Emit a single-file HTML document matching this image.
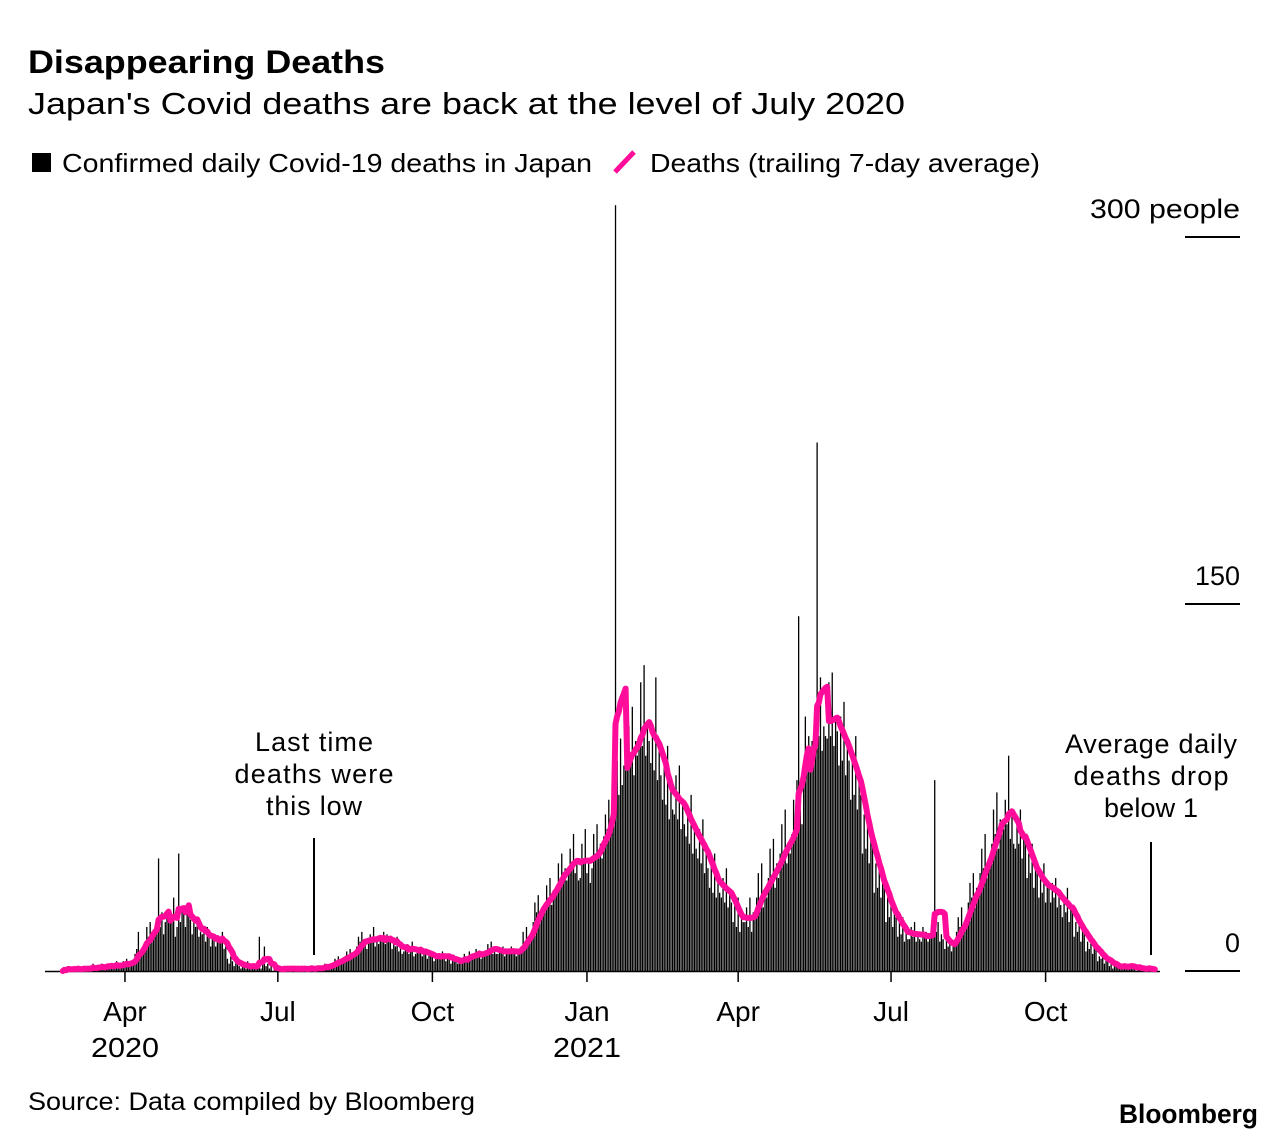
<!DOCTYPE html>
<html><head><meta charset="utf-8"><style>
body{margin:0;background:#fff;width:1286px;height:1140px;overflow:hidden;font-family:"Liberation Sans",sans-serif;}
svg{position:absolute;left:0;top:0}
</style></head><body>
<svg id="chart" width="1286" height="1140" xmlns="http://www.w3.org/2000/svg" font-family="Liberation Sans, sans-serif">
<text x="28" y="73" font-size="32" font-weight="bold" fill="#000" textLength="357" lengthAdjust="spacingAndGlyphs">Disappearing Deaths</text>
<text x="28" y="114" font-size="31" fill="#000" textLength="877" lengthAdjust="spacingAndGlyphs">Japan's Covid deaths are back at the level of July 2020</text>
<g>
<rect x="32" y="153" width="19" height="19" fill="#000"/>
<text x="62" y="172" font-size="26" textLength="530" lengthAdjust="spacingAndGlyphs">Confirmed daily Covid-19 deaths in Japan</text>
<line x1="615" y1="172" x2="634" y2="152" stroke="#ff0d9a" stroke-width="5"/>
<text x="650" y="172" font-size="26" textLength="390" lengthAdjust="spacingAndGlyphs">Deaths (trailing 7-day average)</text>
</g>
<g id="yaxis"></g>
<g id="bars"></g>
<g id="xaxis"></g>
<path id="avg" fill="none" stroke="#ff0d9a" stroke-width="6" stroke-linejoin="round" stroke-linecap="round"/>
<g font-size="27" text-anchor="middle" lengthAdjust="spacingAndGlyphs">
<text x="314" y="751" textLength="118">Last time</text><text x="314" y="783" textLength="159">deaths were</text><text x="314" y="815" textLength="96">this low</text>
<line x1="314" y1="838" x2="314" y2="955" stroke="#000" stroke-width="2"/>
</g>
<g font-size="27" text-anchor="middle">
<text x="1151" y="753" textLength="172">Average daily</text><text x="1151" y="785" textLength="155">deaths drop</text><text x="1151" y="817" textLength="94">below 1</text>
<line x1="1151" y1="842" x2="1151" y2="955" stroke="#000" stroke-width="2"/>
</g>
<text x="28" y="1110" font-size="25" textLength="447" lengthAdjust="spacingAndGlyphs">Source: Data compiled by Bloomberg</text>
<text x="1119" y="1123" font-size="27" font-weight="bold" textLength="139" lengthAdjust="spacingAndGlyphs">Bloomberg</text>
</svg>
<script>
const startDate = "2020-02-24";
const daily = [
0,1,0,2,1,0,1, 1,0,2,1,0,1,2, 0,1,2,1,3,0,1, 2,1,3,2,1,2,3, 1,3,2,2,4,1,2, 2,4,3,5,2,3,3,
4,7,9,16,6,8,10, 12,18,14,20,15,17,16, 19,46,18,24,15,20,22, 25,20,23,30,14,18,48, 20,26,24,18,25,27,21,
15,20,18,22,14,16,15, 16,12,18,14,10,15,13, 10,14,13,12,16,9,10, 5,3,6,4,2,5,3, 2,1,3,2,1,4,1,
1,2,3,1,2,14,1, 3,10,2,3,1,2,0, 1,0,2,1,0,1,2, 0,1,1,2,0,1,1, 1,0,2,1,1,0,1, 1,2,1,0,2,1,1,
1,2,3,2,1,3,2, 3,5,4,6,3,4,5, 6,8,5,9,7,6,8, 10,14,12,16,11,13,9, 12,15,13,18,10,14,11, 14,12,16,11,15,12,13,
9,12,10,14,8,10,7, 8,10,11,7,9,12,6, 7,9,8,10,6,9,7, 5,7,6,8,4,6,6, 6,5,8,7,4,6,6, 3,5,4,6,3,4,3,
5,7,6,4,8,6,6, 6,9,7,8,5,7,7, 8,11,9,12,7,9,7, 7,9,8,10,6,9,7, 7,10,8,9,6,8,8, 10,16,12,18,13,15,14,
20,28,24,31,22,26,24, 28,35,30,38,27,33,33, 35,44,38,48,36,42,37, 42,50,44,56,40,46,37, 38,52,45,58,40,46,36,
42,56,48,60,46,52,46, 55,64,58,70,62,72,68, 313,86,72,95,76,84,82, 86,100,84,108,80,94,88, 95,118,92,125,88,100,94,
85,100,82,120,78,92,80, 70,86,68,92,62,74,66, 64,80,62,84,58,70,60, 55,68,52,72,48,60,50, 46,58,44,62,40,50,42,
34,44,32,48,30,36,32, 30,38,28,42,26,32,28, 20,28,18,30,16,22,20, 20,26,18,30,16,24,22, 30,40,28,44,26,34,30,
38,50,36,54,34,44,38, 48,60,46,66,44,52,48, 56,70,58,78,145,66,60, 80,104,86,96,84,94,90, 92,216,96,120,90,100,96,
95,118,96,122,92,104,98, 84,104,86,110,80,94,86, 70,90,72,96,66,78,72, 48,64,50,68,44,54,52, 32,44,34,48,30,36,34,
20,30,22,32,18,24,22, 14,20,15,22,12,16,13, 13,18,14,20,12,15,13, 12,18,14,16,12,15,14, 14,78,16,20,12,15,13,
9,13,10,14,8,12,11, 16,22,18,26,15,20,23, 28,36,30,40,26,34,30, 40,50,42,56,38,46,43, 52,66,56,73,50,62,61,
58,70,60,88,54,66,52, 50,62,52,66,46,56,53, 38,48,40,52,34,42,40, 30,40,32,44,28,36,35, 28,36,30,38,26,32,27,
22,30,24,34,20,26,26, 14,20,16,22,12,18,17, 8,12,9,14,7,11,9, 4,6,5,7,3,5,5, 2,3,1,3,2,2,1,
1,3,2,2,1,3,2, 1,2,0,1,2,1,1, 0,1,1,2,0,1,0
];
const yTicks = [0,150,300];
const yTickLabels = ["0","150","300 people"];
const yTickLabelWidths = [15,45,150];
const xTickDates = ["2020-04-01","2020-07-01","2020-10-01","2021-01-01","2021-04-01","2021-07-01","2021-10-01"];
const xTickLabels = ["Apr","Jul","Oct","Jan","Apr","Jul","Oct"];
const xYearLabels = ["2020","","","2021","","",""];

const NS="http://www.w3.org/2000/svg";
const DAY=86400000, t0=Date.parse(startDate);
const pxPerDay=1.68, x0=62.8;
function xDay(d){return x0+d*pxPerDay;}
function xDate(s){return xDay((Date.parse(s)-t0)/DAY);}
function y(v){return 971-v*(367/150);}
function mk(tag,attrs,parent){const e=document.createElementNS(NS,tag);for(const k in attrs)e.setAttribute(k,attrs[k]);parent.appendChild(e);return e;}

const ya=document.getElementById('yaxis');
yTicks.forEach((v,i)=>{
  const l=mk('line',{x1:1185,x2:1240,y1:y(v),y2:y(v),stroke:'#000','stroke-width':2},ya);
  
  
  const t=mk('text',{x:1240,y:y(v)-19,'font-size':27,'text-anchor':'end',textLength:yTickLabelWidths[i],lengthAdjust:'spacingAndGlyphs'},ya);
  t.textContent=yTickLabels[i];
  
  
});

const bg=document.getElementById('bars');
daily.forEach((v,i)=>{
  if(v<=0)return;
  const r=mk('rect',{x:xDay(i)-0.65,y:y(v),width:1.3,height:971-y(v),fill:'#000'},bg);
  
  
});

const xa=document.getElementById('xaxis');
const bl=mk('line',{x1:45,x2:1160,y1:971.5,y2:971.5,stroke:'#000','stroke-width':1.5},xa);


xTickDates.forEach((d,i)=>{
  const x=xDate(d);
  const tk=mk('line',{x1:x,x2:x,y1:971,y2:982,stroke:'#000','stroke-width':1.5},xa);
  
  
  const t=mk('text',{x:x,y:1021,'font-size':28,'text-anchor':'middle'},xa);
  t.textContent=xTickLabels[i];
  
  
  if(xYearLabels[i]){
    const yt=mk('text',{x:x,y:1057,'font-size':28,'text-anchor':'middle',textLength:68,lengthAdjust:'spacingAndGlyphs'},xa);
    yt.textContent=xYearLabels[i];
    
    
  }
});

let dstr='';
daily.forEach((v,i)=>{
  const s=Math.max(0,i-6);let sum=0;for(let j=s;j<=i;j++)sum+=daily[j];
  const a=sum/(i-s+1);
  dstr+=(i?'L':'M')+xDay(i).toFixed(1)+','+y(a).toFixed(1);
});
document.getElementById('avg').setAttribute('d',dstr);
</script>
</body></html>
